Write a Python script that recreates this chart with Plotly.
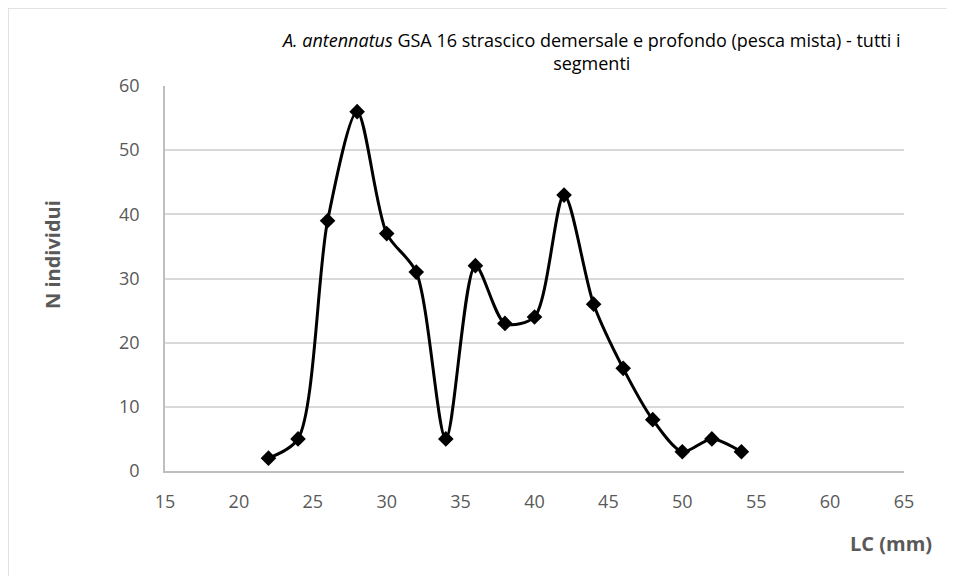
import plotly.graph_objects as go

# LC (mm) classes and counts
lc_mm = [22, 24, 26, 28, 30, 32, 34, 36, 38, 40, 42, 44, 46, 48, 50, 52, 54]
n_individui = [2, 5, 39, 56, 37, 31, 5, 32, 23, 24, 43, 26, 16, 8, 3, 5, 3]
x_ticks = [15, 20, 25, 30, 35, 40, 45, 50, 55, 60, 65]
y_ticks = [0, 10, 20, 30, 40, 50, 60]

# the page body adds an 8px margin, so the figure is drawn 8px smaller
OFF = 8
W, H = 955 - OFF, 576 - OFF
L, T = 165 - OFF, 86 - OFF
PW, PH = 739, 385
R, B = W - L - PW, H - T - PH


def px_x(p):
    # page pixel -> paper
    return (p - OFF - L) / PW


def px_y(p):
    return (T + PH - (p - OFF)) / PH


FONT = "Open Sans"
GREY = "#595959"

fig = go.Figure()
fig.add_trace(
    go.Scatter(
        x=lc_mm,
        y=n_individui,
        mode="lines+markers",
        line=dict(color="black", width=3, shape="spline", smoothing=0.8),
        marker=dict(symbol="diamond", size=12, color="black"),
        showlegend=False,
    )
)

fig.update_layout(
    width=W,
    height=H,
    margin=dict(l=L, r=R, t=T, b=B),
    paper_bgcolor="white",
    plot_bgcolor="white",
    font=dict(family=FONT, color=GREY, size=18),
)
fig.update_xaxes(
    range=[15, 65],
    tickvals=x_ticks,
    showgrid=False,
    zeroline=False,
    showline=True,
    linecolor="#bfbfbf",
    linewidth=1.5,
    ticks="",
    ticklabelstandoff=14,
    tickfont=dict(size=18, color=GREY),
)
fig.update_yaxes(
    range=[0, 60],
    tickvals=y_ticks,
    showgrid=True,
    gridcolor="#d9d9d9",
    gridwidth=1.5,
    zeroline=False,
    showline=True,
    linecolor="#bfbfbf",
    linewidth=1.5,
    ticks="",
    ticklabelstandoff=20,
    tickfont=dict(size=18, color=GREY),
)

# chart border (only the top and left edges fall inside the picture)
fig.add_shape(
    type="rect", xref="paper", yref="paper",
    x0=px_x(8), x1=px_x(980), y0=px_y(600), y1=px_y(8),
    line=dict(color="#d9d9d9", width=1.5),
)

fig.add_annotation(
    xref="paper", yref="paper", x=px_x(590), y=px_y(51),
    text="<i>A. antennatus</i> GSA 16 strascico demersale e profondo (pesca mista) - tutti i<br>segmenti",
    showarrow=False, xanchor="center", yanchor="middle",
    font=dict(family=FONT, size=18, color="black"),
)
fig.add_annotation(
    xref="paper", yref="paper", x=px_x(52), y=px_y(254),
    text="<b>N individui</b>", textangle=-90,
    showarrow=False, xanchor="center", yanchor="middle",
    font=dict(family=FONT, size=20, color=GREY),
)
fig.add_annotation(
    xref="paper", yref="paper", x=px_x(934), y=px_y(543),
    text="<b>LC (mm)</b>",
    showarrow=False, xanchor="right", yanchor="middle",
    font=dict(family=FONT, size=20, color=GREY),
)

fig.write_html("out.html")
